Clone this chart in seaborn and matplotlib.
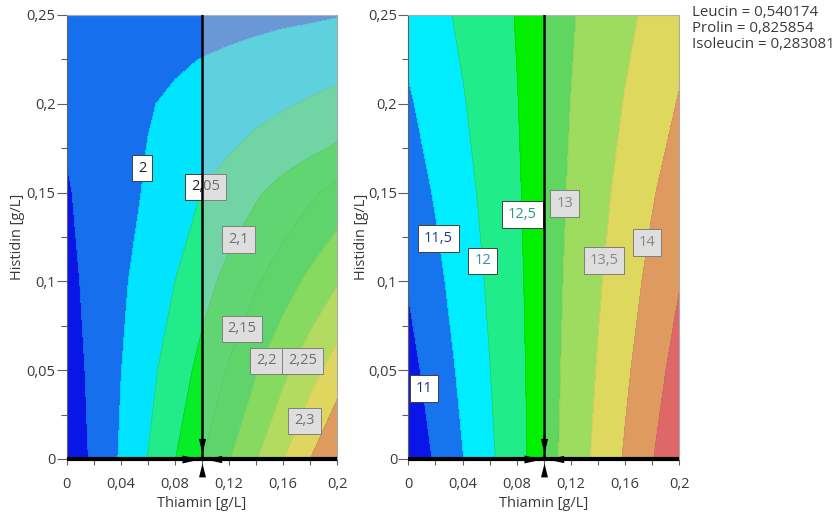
import numpy as np
import matplotlib
matplotlib.use("Agg")
import matplotlib.pyplot as plt
import seaborn as sns
from matplotlib.ticker import FixedLocator, MultipleLocator, FuncFormatter
from matplotlib.transforms import offset_copy

sns.set_theme(style="white")
plt.rcParams['font.family'] = ['Open Sans', 'DejaVu Sans']

# ---------------- data ----------------
thiamin = [0.00, 0.02, 0.04, 0.06, 0.08, 0.10, 0.12, 0.14, 0.16, 0.18, 0.20]
histidin_left = [0.00, 0.05, 0.10, 0.15, 0.175, 0.20, 0.225, 0.25]
histidin_right = [0.00, 0.05, 0.10, 0.15, 0.20, 0.25]

# left response (rows = histidin, cols = thiamin)
resp_left_h000 = [1.914, 1.959, 2.005, 2.051, 2.099, 2.148, 2.197, 2.247, 2.298, 2.350, 2.403]
resp_left_h005 = [1.925, 1.962, 1.999, 2.036, 2.075, 2.114, 2.155, 2.196, 2.238, 2.281, 2.324]
resp_left_h010 = [1.937, 1.964, 1.992, 2.021, 2.050, 2.083, 2.114, 2.145, 2.177, 2.211, 2.246]
resp_left_h015 = [1.946, 1.966, 1.985, 2.005, 2.028, 2.051, 2.073, 2.094, 2.117, 2.141, 2.167]
resp_left_h0175 = [1.952, 1.968, 1.984, 2.001, 2.016, 2.031, 2.046, 2.061, 2.076, 2.090, 2.106]
resp_left_h020 = [1.958, 1.971, 1.984, 1.997, 2.007, 2.018, 2.027, 2.036, 2.045, 2.055, 2.065]
resp_left_h0225 = [1.963, 1.970, 1.978, 1.986, 1.994, 2.001, 2.008, 2.014, 2.020, 2.025, 2.030]
resp_left_h025 = [1.969, 1.969, 1.970, 1.972, 1.974, 1.977, 1.982, 1.987, 1.991, 1.994, 1.998]

# right response
resp_right_h000 = [10.625, 11.053, 11.481, 11.909, 12.337, 12.766, 13.194, 13.622, 14.050, 14.478, 14.906]
resp_right_h005 = [10.830, 11.216, 11.602, 11.988, 12.374, 12.760, 13.146, 13.533, 13.919, 14.305, 14.691]
resp_right_h010 = [11.034, 11.378, 11.723, 12.067, 12.411, 12.755, 13.099, 13.444, 13.788, 14.132, 14.476]
resp_right_h015 = [11.239, 11.541, 11.843, 12.146, 12.448, 12.750, 13.052, 13.354, 13.657, 13.959, 14.261]
resp_right_h020 = [11.443, 11.704, 11.964, 12.224, 12.484, 12.745, 13.005, 13.265, 13.525, 13.786, 14.030]
resp_right_h025 = [11.648, 11.866, 12.085, 12.303, 12.521, 12.740, 12.958, 13.176, 13.394, 13.613, 13.831]

levels_left = [1.95, 2.0, 2.05, 2.1, 2.15, 2.2, 2.25, 2.3, 2.35, 2.4]
levels_right = [11.0, 11.5, 12.0, 12.5, 13.0, 13.5, 14.0, 14.5]

labels_left = [2.0, 2.05, 2.1, 2.15, 2.2, 2.25, 2.3]
labels_right = [11.0, 11.5, 12.0, 12.5, 13.0, 13.5, 14.0]

setpoint_thiamin = 0.1
setpoint_histidin = 0.0

factor_names = ["Leucin", "Prolin", "Isoleucin"]
factor_values = [0.540174, 0.825854, 0.283081]

x_ticks = [0.0, 0.04, 0.08, 0.12, 0.16, 0.2]
y_ticks = [0.0, 0.05, 0.1, 0.15, 0.2, 0.25]

# ---------------- style ----------------
colors_left = ['#0a16e8', '#1670ee', '#00e4ff', '#22ec8a', '#06ee28', '#00ec18',
               '#4ef800', '#a8fa00', '#fff000', '#ff7600', '#ff1010']
colors_right = ['#0a16e8', '#1674ee', '#00ecff', '#20ec8a', '#00f000',
                '#7efc00', '#fff400', '#ff7600', '#ff1010']

pos_left = [(0.056, 0.1638), (0.1026, 0.1532), (0.127, 0.1236), (0.1296, 0.0732),
            (0.1477, 0.0552), (0.1743, 0.0552), (0.1758, 0.0214)]
txtcol_left = ['#202020'] * 7
pos_right = [(0.0116, 0.0397), (0.0222, 0.1241), (0.0549, 0.1115), (0.0842, 0.1377),
             (0.1154, 0.1439), (0.1445, 0.1118), (0.1760, 0.1219)]
txtcol_right = ['#1c2a86', '#1f3f86', '#3a8ea6', '#2a9a82', '#505050', '#505050', '#505050']

W, H = 834, 514
fig = plt.figure(figsize=(W / 100, H / 100), dpi=100)
fig.patch.set_facecolor('white')

ax_l = fig.add_axes([66.7 / W, 55 / H, 270.5 / W, 444 / H])
ax_r = fig.add_axes([408.3 / W, 55 / H, 271 / W, 444 / H])

def fmt(v, pos=None):
    s = ('%.2f' % v).rstrip('0').rstrip('.')
    return s.replace('.', ',')

def draw(ax, ys, rows, levels, colors, lab_vals, lab_pos, lab_cols):
    X, Y = np.meshgrid(thiamin, ys)
    Z = np.array(rows)
    ax.contourf(X, Y, Z, levels=levels, colors=colors, extend='both', zorder=1)
    ax.contour(X, Y, Z, levels=levels, colors='k', linewidths=0.5, alpha=0.15, zorder=2)
    for v, (px, py), c in zip(lab_vals, lab_pos, lab_cols):
        ax.text(px, py, fmt(v), ha='center', va='center', fontsize=10.5, color=c, zorder=5,
                bbox=dict(boxstyle='square,pad=0.4', fc='white', ec='#404040', lw=0.7))
    # faded region beyond set point
    ax.axvspan(setpoint_thiamin, thiamin[-1], facecolor='#bebebe', alpha=0.5, lw=0, zorder=6)
    # crosshair
    ax.axvline(setpoint_thiamin, color='black', lw=1.8, zorder=8)
    ax.plot([thiamin[0], thiamin[-1]], [setpoint_histidin, setpoint_histidin], color='black',
            lw=3, clip_on=False, zorder=8, solid_capstyle='butt')
    tri = [
        (0, 6, [(0, 0), (-0.25, 1), (0.25, 1)], 21),
        (0, -4, [(0, 0), (-0.25, -1), (0.25, -1)], 20),
        (-2, 0, [(0, 0), (-1, 0.22), (-1, -0.22)], 26),
        (3, 0, [(0, 0), (1, 0.22), (1, -0.22)], 24),
    ]
    for dx, dy, verts, ms in tri:
        tr = offset_copy(ax.transData, fig=fig, x=dx, y=dy, units='dots')
        ax.plot([setpoint_thiamin], [setpoint_histidin], marker=verts, ms=ms, color='black',
                mew=0, linestyle='none', transform=tr, clip_on=False, zorder=9)

    ax.set_xlim(thiamin[0], thiamin[-1])
    ax.set_ylim(ys[0], ys[-1])
    ax.xaxis.set_major_locator(FixedLocator(x_ticks))
    ax.xaxis.set_minor_locator(MultipleLocator(0.02))
    ax.yaxis.set_major_locator(FixedLocator(y_ticks))
    ax.yaxis.set_minor_locator(MultipleLocator(0.025))
    ax.xaxis.set_major_formatter(FuncFormatter(fmt))
    ax.yaxis.set_major_formatter(FuncFormatter(fmt))
    ax.tick_params(axis='both', which='both', direction='out', colors='#606060',
                   labelcolor='#3a3a3a', labelsize=10.5, bottom=True, left=True)
    ax.tick_params(axis='y', which='major', length=7, width=0.8, pad=1)
    ax.tick_params(axis='y', which='minor', length=4, width=0.8)
    ax.tick_params(axis='x', which='major', length=4, width=0.8, pad=9)
    ax.tick_params(axis='x', which='minor', length=4, width=0.8)
    for s in ['top', 'right']:
        ax.spines[s].set_color('#a8a8a8')
        ax.spines[s].set_linewidth(0.8)
    ax.spines['left'].set_color('#606060')
    ax.spines['left'].set_linewidth(0.8)
    ax.spines['bottom'].set_visible(False)
    ax.set_xlabel('Thiamin [g/L]', fontsize=10.5, color='#3a3a3a')
    ax.set_ylabel('Histidin [g/L]', fontsize=10.5, color='#3a3a3a')
    ax.xaxis.set_label_coords(0.5, -0.083)

draw(ax_l, histidin_left,
     [resp_left_h000, resp_left_h005, resp_left_h010, resp_left_h015,
      resp_left_h0175, resp_left_h020, resp_left_h0225, resp_left_h025],
     levels_left, colors_left, labels_left, pos_left, txtcol_left)
draw(ax_r, histidin_right,
     [resp_right_h000, resp_right_h005, resp_right_h010, resp_right_h015,
      resp_right_h020, resp_right_h025],
     levels_right, colors_right, labels_right, pos_right, txtcol_right)
ax_l.yaxis.set_label_coords(-0.154, 0.5)
ax_r.yaxis.set_label_coords(-0.145, 0.5)

for i, (n, v) in enumerate(zip(factor_names, factor_values)):
    fig.text(692 / W, 1 - (13 + 16 * i) / H, '%s = %s' % (n, ('%.6f' % v).replace('.', ',')),
             fontsize=10.8, color='#3a3a3a', ha='left', va='center')

fig.savefig('out.png', dpi=100, facecolor='white')
